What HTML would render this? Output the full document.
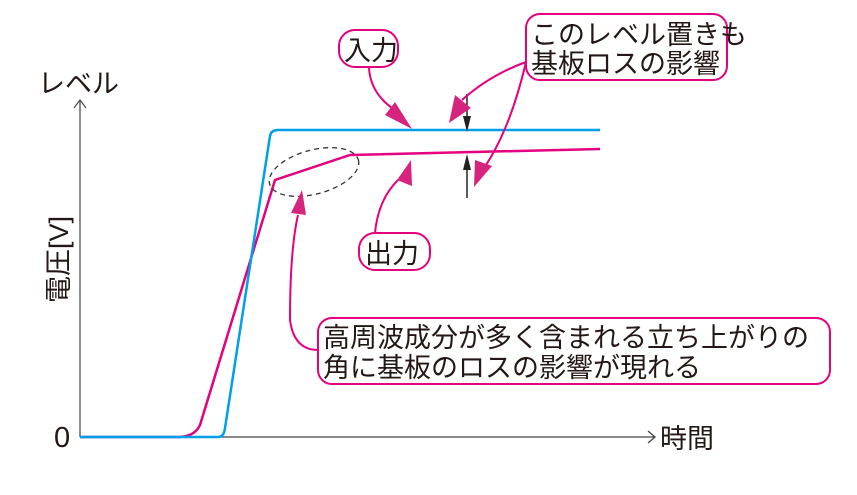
<!DOCTYPE html>
<html><head><meta charset="utf-8"><style>
body{margin:0;background:#fff}
text{font-family:"Liberation Sans","Noto Sans CJK JP",sans-serif;fill:#231815}
</style></head><body>
<svg width="857" height="490" viewBox="0 0 857 490" xmlns="http://www.w3.org/2000/svg">
<!-- axes -->
<line x1="80" y1="437" x2="80" y2="101" stroke="#666" stroke-width="1.5"/>
<polyline points="74,108 80,100 86,108" fill="none" stroke="#555" stroke-width="1.3"/>
<line x1="80" y1="437" x2="655" y2="437" stroke="#444" stroke-width="1.3"/>
<polyline points="648,431 655,437 648,443" fill="none" stroke="#444" stroke-width="1.3"/>
<text x="38" y="93" font-size="27">レベル</text>
<text x="660" y="448" font-size="27">時間</text>
<text x="54" y="447" font-size="29">0</text>
<text transform="translate(68,303) rotate(-90)" font-size="27">電圧[V]</text>
<!-- signals -->
<path d="M80,437 L180,437 Q195,436 200,425 L275,180 L350,155 L600,149" fill="none" stroke="#e4007f" stroke-width="2.5"/>
<path d="M80,437 L218,437 Q224,437 225,428 L270,136 Q271,130 278,130 L600,130" fill="none" stroke="#00a0e9" stroke-width="2.5"/>
<ellipse cx="314" cy="172" rx="46" ry="22" transform="rotate(-15 314 172)" fill="none" stroke="#333" stroke-width="1.3" stroke-dasharray="5,4"/>
<!-- black arrows -->
<line x1="467" y1="94" x2="467" y2="122" stroke="#222" stroke-width="1.5"/>
<path d="M463,116 L467,132 L471,116 z" fill="#222"/>
<line x1="467" y1="198" x2="467" y2="164" stroke="#222" stroke-width="1.5"/>
<path d="M463,170 L467,154 L471,170 z" fill="#222"/>
<!-- leaders -->
<g fill="none" stroke="#e4007f" stroke-width="2">
<path d="M369,67 Q370,95 398,112" />
<path d="M526,62 Q490,75 462,100"/>
<path d="M526,62 Q510,130 484,168"/>
<path d="M375,233 Q378,200 398,180"/>
<path d="M318,350 Q294,350 290,320 Q290,250 298,215"/>
</g>
<path d="M395,102 L412,129 L385,115 z" fill="#d6247e"/>
<path d="M455,95 L449,123 L471,108 z" fill="#d6247e"/>
<path d="M475,160 L474,187 L492,166 z" fill="#d6247e"/>
<path d="M397,180 L411,160 L412,186 z" fill="#d6247e"/>
<path d="M291,213 L302,190 L306,215 z" fill="#d6247e"/>
<!-- boxes -->
<g fill="#fff" stroke="#e4007f" stroke-width="2">
<rect x="339" y="30" width="59" height="37" rx="16"/>
<rect x="526" y="14" width="201" height="66" rx="14"/>
<rect x="359" y="233" width="71" height="37" rx="16"/>
<rect x="318" y="318" width="512" height="66" rx="14"/>
</g>
<text x="344" y="60" font-size="27">入力</text>
<text x="531" y="44" font-size="27">このレベル置きも</text>
<text x="531" y="73" font-size="27">基板ロスの影響</text>
<text x="365" y="263" font-size="27">出力</text>
<text x="323" y="347" font-size="27">高周波成分が多く含まれる立ち上がりの</text>
<text x="323" y="377" font-size="27">角に基板のロスの影響が現れる</text>
</svg>
</body></html>
